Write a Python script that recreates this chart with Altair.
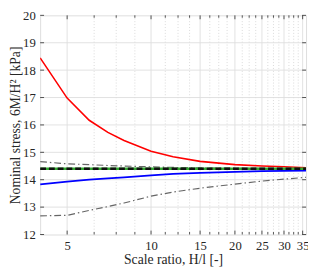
import altair as alt
import pandas as pd

# Scale ratio H/l sample points
H = [4, 5, 6, 7, 8, 10, 12, 15, 20, 25, 30, 36]
red = [18.45, 16.98, 16.17, 15.73, 15.43, 15.04, 14.84, 14.67, 14.55, 14.50, 14.47, 14.44]
blue = [13.83, 13.93, 14.00, 14.05, 14.09, 14.16, 14.21, 14.25, 14.29, 14.31, 14.32, 14.33]
gray_up = [14.66, 14.58, 14.55, 14.52, 14.50, 14.47, 14.45, 14.43, 14.42, 14.41, 14.41, 14.41]
gray_low = [12.68, 12.70, 12.88, 13.02, 13.15, 13.40, 13.55, 13.69, 13.84, 13.95, 14.02, 14.09]
H_ref = [4, 36]
ref = [14.4, 14.4]

x_major = [5, 10, 15, 20, 25, 30, 35]
x_minor = [6.25, 7.5, 8.75, 11.25, 12.5, 13.75, 16.25, 17.5, 18.75, 21.25, 22.5, 23.75,
           26.25, 27.5, 28.75, 31.25, 32.5, 33.75]
y_major = [12, 13, 14, 15, 16, 17, 18, 19, 20]
y_grid = [13, 14, 15, 16, 17, 18, 19]

W, HH = 273, 225
FONT = "Liberation Serif"

xs = alt.Scale(type="log", domain=[4, 36], nice=False)
ys = alt.Scale(domain=[12, 20], nice=False, zero=False)
xaxis = alt.Axis(values=x_major, format="d", ticks=False, domain=False, grid=False,
                 labelFont=FONT, labelFontSize=13, labelColor="#262626", labelPadding=5,
                 title="Scale ratio, H/l [-]", titleFont=FONT, titleFontSize=14,
                 titleFontWeight="normal", titleColor="#262626", titlePadding=1)
yaxis = alt.Axis(values=y_major, format="d", ticks=False, domain=False, grid=False,
                 labelFont=FONT, labelFontSize=13, labelColor="#262626", labelPadding=5,
                 title="Nominal stress, 6M/H² [kPa]", titleFont=FONT, titleFontSize=14,
                 titleFontWeight="normal", titleColor="#262626",
                 titleX=-25, titleY=HH / 2, titleBaseline="middle", titleAngle=270)

df_major = pd.DataFrame({"v": x_major})
df_minor = pd.DataFrame({"v": x_minor})
df_yg = pd.DataFrame({"v": y_grid})
df_ym = pd.DataFrame({"v": y_major})

X = lambda f: alt.X(f, type="quantitative", scale=xs, axis=xaxis)
Y = lambda f: alt.Y(f, type="quantitative", scale=ys, axis=yaxis)

layers = []
# grid
layers.append(alt.Chart(df_minor).mark_rule(color="#cfcfcf", strokeDash=[1, 2], strokeWidth=0.8)
              .encode(x=X("v"), y=alt.value(0), y2=alt.value(HH)))
layers.append(alt.Chart(df_major).mark_rule(color="#dedede", strokeWidth=0.9)
              .encode(x=X("v"), y=alt.value(0), y2=alt.value(HH)))
layers.append(alt.Chart(df_yg).mark_rule(color="#dedede", strokeWidth=0.9)
              .encode(y=Y("v"), x=alt.value(0), x2=alt.value(W)))


def line(xv, yv, color, width, dash=None):
    df = pd.DataFrame({"x": xv, "y": yv})
    kw = dict(color=color, strokeWidth=width, clip=True)
    if dash:
        kw["strokeDash"] = dash
    return alt.Chart(df).mark_line(**kw).encode(x=X("x"), y=Y("y"))


layers.append(line(H, gray_up, "#666666", 1.2, [7, 3, 1.5, 3]))
layers.append(line(H, gray_low, "#666666", 1.2, [7, 3, 1.5, 3]))
layers.append(line(H, red, "#ff0000", 1.6))
layers.append(line(H, blue, "#0000ff", 1.8))
layers.append(line(H_ref, ref, "#33aa33", 2.4))
layers.append(line(H_ref, ref, "#111111", 2.6, [6, 3]))

# inward ticks
for df, ln in ((df_major, 4), (df_minor, 2.5)):
    layers.append(alt.Chart(df).mark_rule(color="#262626", strokeWidth=0.8)
                  .encode(x=X("v"), y=alt.value(HH), y2=alt.value(HH - ln)))
    layers.append(alt.Chart(df).mark_rule(color="#262626", strokeWidth=0.8)
                  .encode(x=X("v"), y=alt.value(0), y2=alt.value(ln)))
layers.append(alt.Chart(df_ym).mark_rule(color="#262626", strokeWidth=0.8)
              .encode(y=Y("v"), x=alt.value(0), x2=alt.value(4)))
layers.append(alt.Chart(df_ym).mark_rule(color="#262626", strokeWidth=0.8)
              .encode(y=Y("v"), x=alt.value(W - 4), x2=alt.value(W)))

chart = alt.layer(*layers).properties(
    width=W, height=HH,
    autosize=alt.AutoSizeParams(type="none"),
    padding={"left": 33, "top": 4, "right": 2, "bottom": 37},
).configure_view(stroke="#262626", strokeWidth=1).configure(background="white")

chart.save("out.html", embed_options={"renderer": "svg", "actions": False})
